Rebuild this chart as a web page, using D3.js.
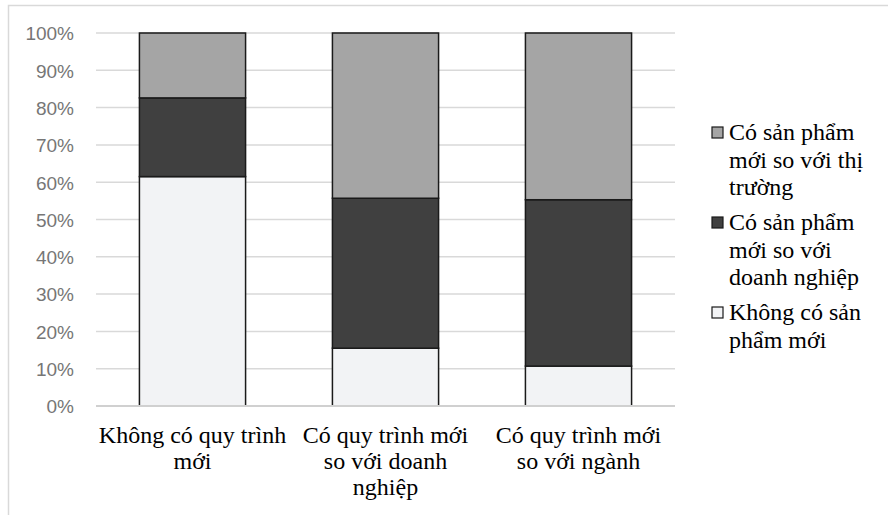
<!DOCTYPE html>
<html>
<head>
<meta charset="utf-8">
<script src="https://cdn.jsdelivr.net/npm/d3@7"></script>
<style>
  body { margin: 0; background: #fff; }
  svg { display: block; }
</style>
</head>
<body>
<div id="chart"></div>
<script>
// categories and stacked shares (fractions of 100%)
var categories = ["Không có quy trình mới", "Có quy trình mới so với doanh nghiệp", "Có quy trình mới so với ngành"];
var catLines = [["Không có quy trình", "mới"], ["Có quy trình mới", "so với doanh", "nghiệp"], ["Có quy trình mới", "so với ngành"]];
var seriesNames = ["Không có sản phẩm mới", "Có sản phẩm mới so với doanh nghiệp", "Có sản phẩm mới so với thị trường"];
var noNewProduct = [0.615, 0.155, 0.107];
var newToFirm = [0.211, 0.402, 0.446];
var newToMarket = [0.174, 0.443, 0.447];
var yTicks = [0, 0.1, 0.2, 0.3, 0.4, 0.5, 0.6, 0.7, 0.8, 0.9, 1];
var legendLines = [["Có sản phẩm", "mới so với thị", "trường"], ["Có sản phẩm", "mới so với", "doanh nghiệp"], ["Không có sản", "phẩm mới"]];

var colors = ["#f2f3f5", "#404040", "#a5a5a5"];
var w = 888, h = 515;
var plotLeft = 96, plotRight = 675, plotTop = 33, plotBottom = 406;

var svg = d3.select("#chart").append("svg").attr("width", w).attr("height", h);

// chart frame (only left/top edges are visible)
svg.append("rect").attr("x", 8.5).attr("y", 5.5).attr("width", w + 10).attr("height", h + 10)
   .attr("fill", "none").attr("stroke", "#d9d9d9").attr("stroke-width", 1.5);

var x = d3.scaleBand().domain(categories).range([plotLeft, plotRight]).paddingInner(0.45).paddingOuter(0.225);
var y = d3.scaleLinear().domain([0, 1]).range([plotBottom, plotTop]);

// grid lines
svg.append("g").selectAll("line")
   .data(yTicks.filter(d => d > 0))
   .enter().append("line")
   .attr("x1", plotLeft).attr("x2", plotRight)
   .attr("y1", d => y(d)).attr("y2", d => y(d))
   .attr("stroke", "#d9d9d9").attr("stroke-width", 1.5);

// y labels
var yAxis = svg.append("g").attr("transform", "translate(" + 74 + ",0)")
   .call(d3.axisLeft(y).tickValues(yTicks).tickFormat(d3.format(".0%")).tickSize(0).tickPadding(0));
yAxis.select(".domain").remove();
yAxis.selectAll("text")
   .attr("font-family", "'Liberation Sans', Arial, sans-serif")
   .attr("font-size", "19px")
   .attr("fill", "#767676")
   .attr("dy", "0.36em");

// stacked bars
var rows = categories.map(function(c, i) {
    return { cat: c, a: noNewProduct[i], b: newToFirm[i], c: newToMarket[i] };
});
var stacked = d3.stack().keys(["a", "b", "c"])(rows);

svg.append("g").selectAll("g")
   .data(stacked)
   .enter().append("g")
   .attr("fill", (d, i) => colors[i])
   .selectAll("rect")
   .data(d => d)
   .enter().append("rect")
   .attr("x", d => x(d.data.cat))
   .attr("width", x.bandwidth())
   .attr("y", d => y(d[1]))
   .attr("height", d => y(d[0]) - y(d[1]))
   .attr("stroke", "#1a1a1a").attr("stroke-width", 1.5);

// x axis line
svg.append("line").attr("x1", plotLeft).attr("x2", plotRight).attr("y1", plotBottom).attr("y2", plotBottom)
   .attr("stroke", "#d0d0d0").attr("stroke-width", 2);

// category labels
var serif = "'Liberation Serif', 'Times New Roman', serif";
svg.append("g").selectAll("text")
   .data(categories)
   .enter().append("text")
   .attr("x", d => x(d) + x.bandwidth() / 2)
   .attr("y", 443)
   .attr("text-anchor", "middle")
   .attr("font-family", serif).attr("font-size", "24px").attr("fill", "#000")
   .each(function(d, i) {
       var t = d3.select(this);
       catLines[i].forEach(function(line, j) {
           t.append("tspan").attr("x", x(d) + x.bandwidth() / 2).attr("dy", j ? 26 : 0).text(line);
       });
   });

// legend (top to bottom: market, firm, none)
var legendOrder = [2, 1, 0];
var legendY = [140, 230, 320];
var lg = svg.append("g").selectAll("g")
   .data(legendOrder)
   .enter().append("g");
lg.append("rect")
   .attr("x", 712).attr("y", (d, i) => legendY[i] - 13)
   .attr("width", 11).attr("height", 11)
   .attr("fill", d => colors[d]).attr("stroke", "#1a1a1a").attr("stroke-width", 1.2);
lg.append("text")
   .attr("font-family", serif).attr("font-size", "24px").attr("fill", "#000")
   .attr("y", (d, i) => legendY[i])
   .each(function(d, i) {
       var t = d3.select(this);
       legendLines[i].forEach(function(line, j) {
           t.append("tspan").attr("x", 729).attr("dy", j ? 27.5 : 0).text(line);
       });
   });
</script>
</body>
</html>
